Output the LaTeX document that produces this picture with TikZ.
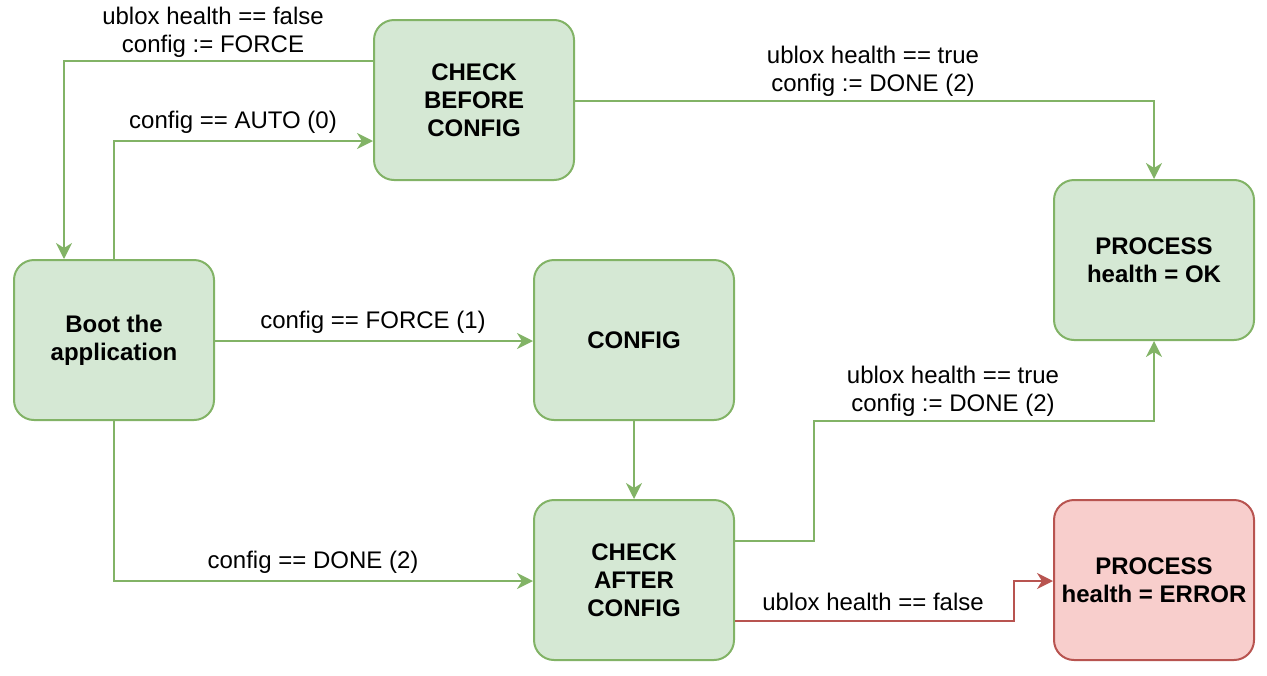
\documentclass[tikz,border=0pt]{standalone}
\usepackage{fontspec}
\setmainfont{Liberation Sans}
\usetikzlibrary{arrows.meta}

\definecolor{okfill}{HTML}{D5E8D4}
\definecolor{okline}{HTML}{82B366}
\definecolor{errfill}{HTML}{F8CECC}
\definecolor{errline}{HTML}{B85450}

\tikzset{
    state/.style={draw=okline, fill=okfill, line width=1pt, rounded corners=10pt,
        minimum width=100pt, minimum height=80pt, align=center,
        font=\fontsize{12}{14}\selectfont\bfseries},
    errstate/.style={state, draw=errline, fill=errfill},
    flow/.style={draw=okline, line width=1pt, -{Stealth[length=8pt, width=8pt, inset=2.5pt]}},
    errflow/.style={flow, draw=errline},
    cond/.style={align=center, font=\fontsize{12}{14}\selectfont}
}

\begin{document}
\begin{tikzpicture}[x=0.5pt, y=-0.5pt]
    % Fix the page size
    \useasboundingbox (0,0) rectangle (1267,675);

    % Place the states
    \node[state] (boot) at (114,340) {Boot the\\application};
    \node[state] (before) at (474,100) {CHECK\\BEFORE\\CONFIG};
    \node[state] (config) at (634,340) {CONFIG};
    \node[state] (after) at (634,580) {CHECK\\AFTER\\CONFIG};
    \node[state] (ok) at (1154,260) {PROCESS\\health = OK};
    \node[errstate] (error) at (1154,580) {PROCESS\\health = ERROR};

    % Bend points of the connectors
    \coordinate (b1) at (64,61);
    \coordinate (b2) at (114,141);
    \coordinate (b3) at (1154,101);
    \coordinate (b4) at (114,581);
    \coordinate (b5) at (814,541);
    \coordinate (b6) at (814,421);
    \coordinate (b7) at (1014,621);

    % Draw the connectors
    \draw[flow] (before.west |- b1) -- (b1) -- (b1 |- boot.north);
    \draw[flow] (b2 |- boot.north) -- (b2) -- (before.west |- b2);
    \draw[flow] (before.east |- b3) -- (b3) -- (ok.north);
    \draw[flow] (boot.east |- 0,341) -- (config.west |- 0,341);
    \draw[flow] (config) -- (after);
    \draw[flow] (b4 |- boot.south) -- (b4) -- (after.west |- b4);
    \draw[flow] (after.east |- b5) -- (b5) -- (b6) -- (ok.south |- b6) -- (ok.south);
    \draw[errflow] (after.east |- b7) -- (b7) -- (b7 |- 0,581) -- (error.west |- 0,581);

    % Place the conditions
    \node[cond] (c1) at (213,32) {ublox health == false\\config := FORCE};
    \node[cond] (c2) at (233,122) {config == AUTO (0)};
    \node[cond] (c3) at (873,71) {ublox health == true\\config := DONE (2)};
    \node[cond] (c4) at (373,322) {config == FORCE (1)};
    \node[cond] (c5) at (313,562) {config == DONE (2)};
    \node[cond] (c6) at (953,391) {ublox health == true\\config := DONE (2)};
    \node[cond] (c7) at (873,602) {ublox health == false};
\end{tikzpicture}
\end{document}
